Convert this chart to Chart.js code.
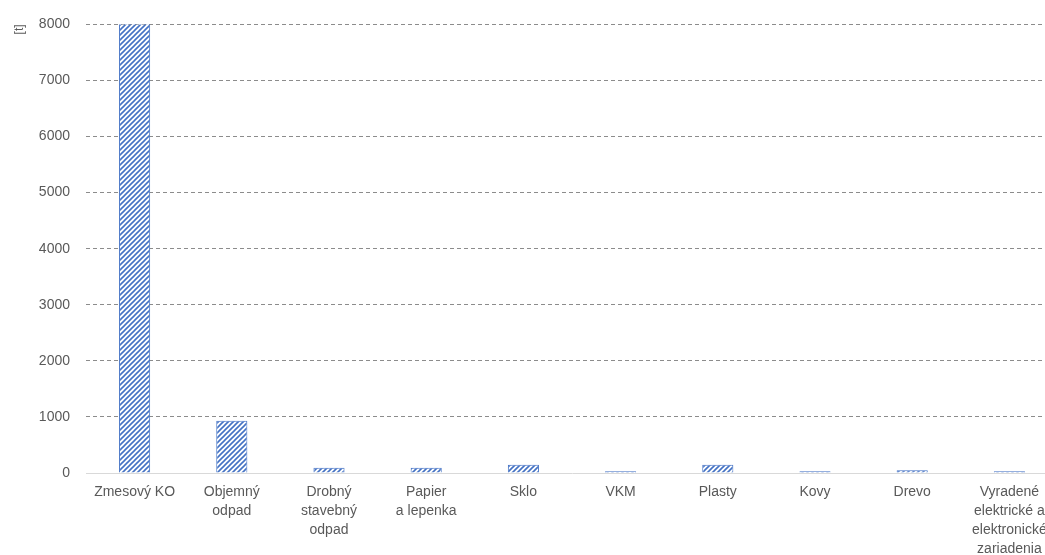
<!DOCTYPE html>
<html>
<head>
    <title>Odpad</title>
    <script src="https://cdn.jsdelivr.net/npm/chart.js"></script>
    <style>
        html, body { margin: 0; padding: 0; background: #fff; overflow: hidden; }
        #wrap { width: 1058px; height: 555px; }
    </style>
</head>
<body>
    <div id="wrap"><canvas id="wasteChart"></canvas></div>
    <script>
        const categories = [
            'Zmesový KO',
            ['Objemný', 'odpad'],
            ['Drobný', 'stavebný', 'odpad'],
            ['Papier', 'a lepenka'],
            'Sklo',
            'VKM',
            'Plasty',
            'Kovy',
            'Drevo',
            ['Vyradené', 'elektrické a', 'elektronické', 'zariadenia']
        ];
        const tons = [8020, 930, 95, 95, 147, 30, 147, 30, 50, 30];
        const yTicks = [0, 1000, 2000, 3000, 4000, 5000, 6000, 7000, 8000];

        // diagonal hatch fill like the original
        function hatch(color) {
            const c = document.createElement('canvas');
            c.width = 5; c.height = 5;
            const g = c.getContext('2d');
            g.fillStyle = '#fff';
            g.fillRect(0, 0, 5, 5);
            g.strokeStyle = color;
            g.lineWidth = 1.6;
            g.beginPath();
            g.moveTo(-1, 6); g.lineTo(6, -1);
            g.moveTo(-1, 1); g.lineTo(1, -1);
            g.moveTo(4, 6); g.lineTo(6, 4);
            g.stroke();
            return g.createPattern(c, 'repeat');
        }

        Chart.defaults.font.family = '"Liberation Sans", Arial, sans-serif';
        Chart.defaults.color = '#595959';

        const ctx = document.getElementById('wasteChart').getContext('2d');
        new Chart(ctx, {
            type: 'bar',
            data: {
                labels: categories,
                datasets: [{
                    label: '[t]',
                    data: tons,
                    backgroundColor: hatch('#4472C4'),
                    borderColor: '#4472C4',
                    borderWidth: 1,
                    barPercentage: 0.32,
                    categoryPercentage: 1
                }]
            },
            options: {
                responsive: true,
                maintainAspectRatio: false,
                animation: false,
                layout: { padding: { top: 15, left: 0, right: 0, bottom: 0 } },
                plugins: {
                    legend: { display: false },
                    tooltip: { enabled: false }
                },
                scales: {
                    x: {
                        grid: { display: false },
                        border: { display: true, color: '#d9d9d9', width: 1 },
                        ticks: { font: { size: 14, lineHeight: 1.35 }, padding: 2, maxRotation: 0, autoSkip: false },
                        afterFit: axis => { axis.height = 82; }
                    },
                    y: {
                        min: 0,
                        max: 8000,
                        afterBuildTicks: axis => { axis.ticks = yTicks.map(v => ({ value: v })); },
                        grid: {
                            color: c => c.tick && c.tick.value === 0 ? 'rgba(0,0,0,0)' : '#8c8c8c',
                            drawTicks: false
                        },
                        border: { display: false, dash: [4, 3] },
                        ticks: { font: { size: 14 }, padding: 16, callback: v => String(v) },
                        title: {
                            display: true,
                            text: '[t]',
                            align: 'end',
                            font: { size: 12 },
                            padding: { top: 12, bottom: 4 }
                        },
                        afterFit: axis => { axis.width = 86; }
                    }
                }
            }
        });
    </script>
</body>
</html>
